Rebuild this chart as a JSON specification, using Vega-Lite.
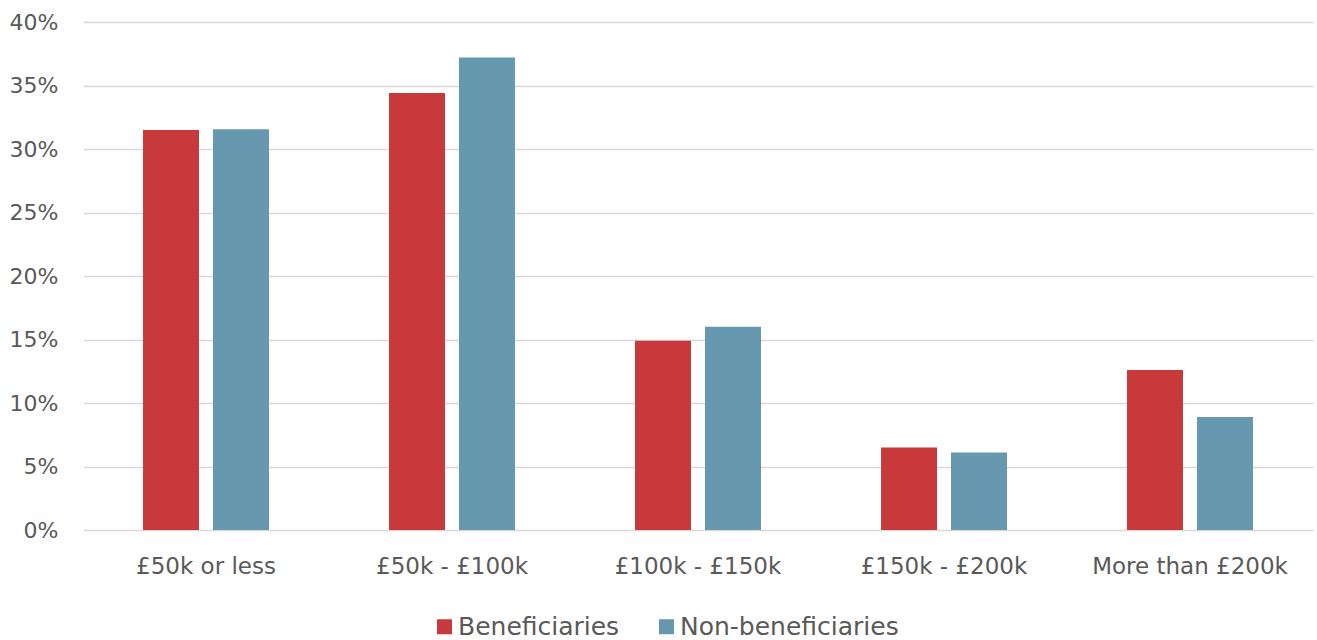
{
  "$schema": "https://vega.github.io/schema/vega-lite/v6.json",
  "width": 1230,
  "height": 508,
  "autosize": {"type": "none"},
  "padding": {"left": 83, "top": 22, "right": 4, "bottom": 110},
  "background": "white",
  "data": {"values": [
    {"band": "£50k or less", "group": "Beneficiaries", "value": 0.315},
    {"band": "£50k or less", "group": "Non-beneficiaries", "value": 0.3155},
    {"band": "£50k - £100k", "group": "Beneficiaries", "value": 0.344},
    {"band": "£50k - £100k", "group": "Non-beneficiaries", "value": 0.372},
    {"band": "£100k - £150k", "group": "Beneficiaries", "value": 0.149},
    {"band": "£100k - £150k", "group": "Non-beneficiaries", "value": 0.160},
    {"band": "£150k - £200k", "group": "Beneficiaries", "value": 0.065},
    {"band": "£150k - £200k", "group": "Non-beneficiaries", "value": 0.061},
    {"band": "More than £200k", "group": "Beneficiaries", "value": 0.126},
    {"band": "More than £200k", "group": "Non-beneficiaries", "value": 0.089}
  ]},
  "mark": {"type": "bar"},
  "encoding": {
    "x": {
      "field": "band", "type": "nominal", "sort": null, "title": null,
      "scale": {"paddingInner": 0.488, "paddingOuter": 0.244},
      "axis": {"labelAngle": 0, "domain": false, "ticks": false, "labelPadding": 25, "labelFontSize": 23, "labelColor": "#595959", "labelFont": "DejaVu Sans", "labelLimit": 0}
    },
    "xOffset": {"field": "group", "type": "nominal", "scale": {"paddingInner": 0.2, "paddingOuter": 0}},
    "y": {
      "field": "value", "type": "quantitative", "title": null,
      "scale": {"domain": [0, 0.4]},
      "axis": {"format": ".0%", "values": [0, 0.05, 0.1, 0.15, 0.2, 0.25, 0.3, 0.35, 0.4], "domain": false, "ticks": false, "labelPadding": 25, "labelFontSize": 22, "labelColor": "#595959", "labelFont": "DejaVu Sans", "gridColor": "#d9d9d9", "gridWidth": 1.5}
    },
    "color": {
      "field": "group", "type": "nominal",
      "scale": {"domain": ["Beneficiaries", "Non-beneficiaries"], "range": ["#c8393b", "#6698b0"]},
      "legend": {"title": null, "orient": "none", "direction": "horizontal", "legendX": 349, "legendY": 592, "symbolType": "square", "symbolSize": 225, "symbolStrokeWidth": 0, "labelFontSize": 25, "labelColor": "#595959", "labelFont": "DejaVu Sans", "labelLimit": 0, "columnPadding": 34, "labelOffset": 1}
    }
  },
  "config": {"view": {"stroke": null}}
}
